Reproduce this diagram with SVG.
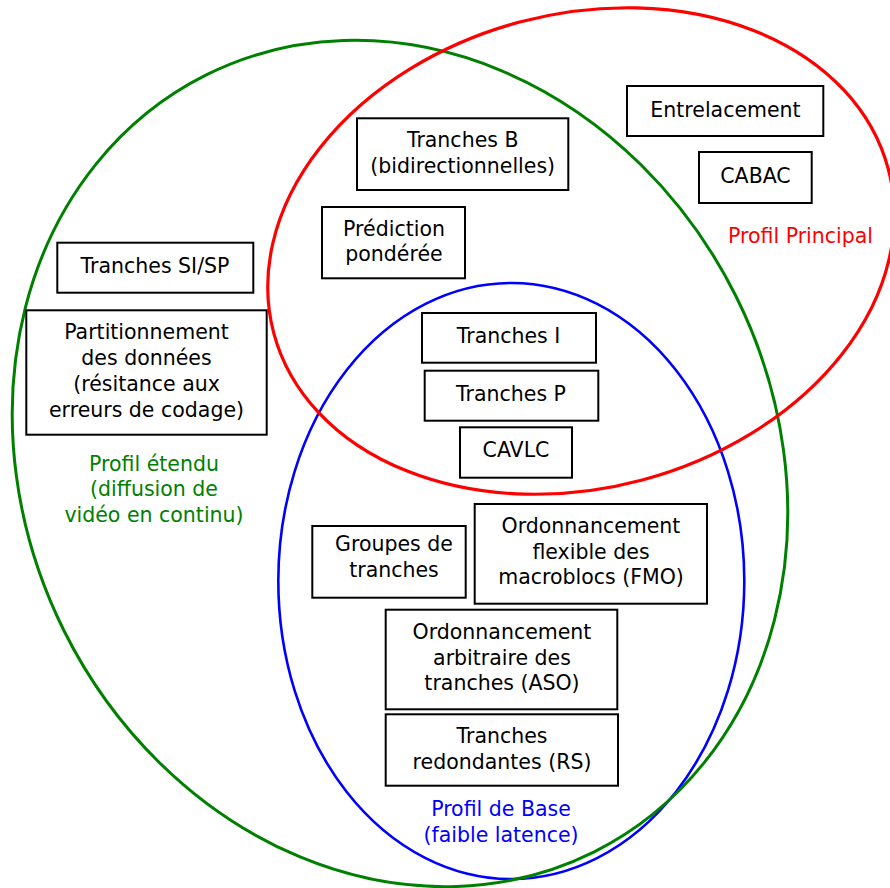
<svg xmlns="http://www.w3.org/2000/svg" width="890" height="888" viewBox="0 0 890 888">
<style>
.box{fill:none;stroke:#000;stroke-width:2}
text{font-family:"DejaVu Sans","Liberation Sans",sans-serif;font-size:20.5px;text-anchor:middle;fill:#000}
.g{fill:#008000}.r{fill:#ff0000}.b{fill:#0000ff}
</style>
<rect width="890" height="888" fill="#fff"/>
<g id="ellipses">
<ellipse id="profil-base" cx="511.3" cy="581" rx="233" ry="298" fill="none" stroke="#0000ff" stroke-width="2.6"/>
<ellipse id="profil-etendu" cx="0" cy="0" rx="375.3" ry="434.2" transform="translate(400 463.5) rotate(-26.5)" fill="none" stroke="#008000" stroke-width="3"/>
<ellipse id="profil-principal" cx="0" cy="0" rx="318" ry="237" transform="translate(581 251) rotate(-15)" fill="none" stroke="#ff0000" stroke-width="3.2"/>
</g>
<g id="labels">
<text class="r" x="800.5" y="243">Profil Principal</text>
<text class="g" x="154" y="470.5">Profil étendu</text>
<text class="g" x="154" y="496">(diffusion de</text>
<text class="g" x="154" y="521.5">vidéo en continu)</text>
<text class="b" x="501" y="816">Profil de Base</text>
<text class="b" x="501" y="841.5">(faible latence)</text>
</g>
<g id="n-sisp"><rect class="box" x="57.3" y="242.7" width="196" height="50"/><text x="155" y="273.3">Tranches SI/SP</text></g>
<g id="n-partition"><rect class="box" x="26.3" y="310.3" width="240.4" height="124.4"/>
<text x="146.5" y="339.3">Partitionnement</text><text x="146.5" y="365">des données</text><text x="146.5" y="390.7">(résitance aux</text><text x="146.5" y="416.5">erreurs de codage)</text></g>
<g id="n-tranchesb"><rect class="box" x="357" y="118.3" width="211.3" height="71.7"/><text x="462.7" y="147.3">Tranches B</text><text x="462.7" y="173">(bidirectionnelles)</text></g>
<g id="n-prediction"><rect class="box" x="322" y="207" width="143" height="71.3"/><text x="394" y="236">Prédiction</text><text x="394" y="261">pondérée</text></g>
<g id="n-entrelacement"><rect class="box" x="627" y="86" width="196.3" height="50"/><text x="725.5" y="116.7">Entrelacement</text></g>
<g id="n-cabac"><rect class="box" x="699" y="152" width="112.7" height="51"/><text x="755.5" y="182.7">CABAC</text></g>
<g id="n-tranchesi"><rect class="box" x="422" y="313" width="174" height="49.7"/><text x="508.5" y="343.3">Tranches I</text></g>
<g id="n-tranchesp"><rect class="box" x="424.7" y="370.7" width="173.6" height="50"/><text x="511" y="400.7">Tranches P</text></g>
<g id="n-cavlc"><rect class="box" x="460" y="427.3" width="112" height="50.4"/><text x="516" y="456.7">CAVLC</text></g>
<g id="n-groupes"><rect class="box" x="312.3" y="526" width="153.4" height="71.7"/><text x="394" y="550.5">Groupes de</text><text x="394" y="576.5">tranches</text></g>
<g id="n-fmo"><rect class="box" x="474.7" y="504" width="232.3" height="99.7"/><text x="591" y="533">Ordonnancement</text><text x="591" y="558.5">flexible des</text><text x="591" y="584">macroblocs (FMO)</text></g>
<g id="n-aso"><rect class="box" x="385.7" y="609.7" width="231.6" height="99.6"/><text x="502" y="639">Ordonnancement</text><text x="502" y="664.5">arbitraire des</text><text x="502" y="690">tranches (ASO)</text></g>
<g id="n-rs"><rect class="box" x="385.7" y="714.3" width="232.3" height="71.4"/><text x="502" y="743.3">Tranches</text><text x="502" y="769">redondantes (RS)</text></g>
</svg>
